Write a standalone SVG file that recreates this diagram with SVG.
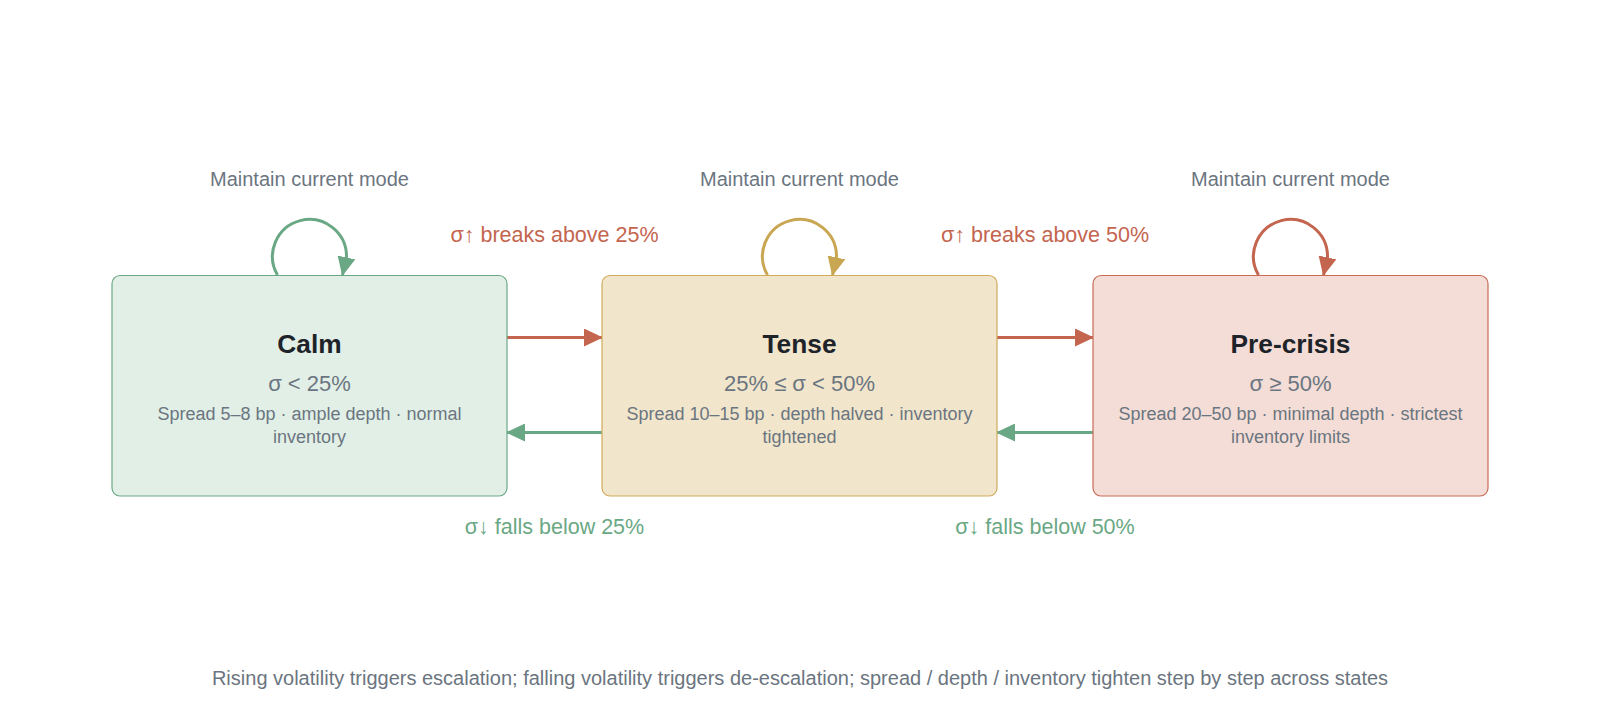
<svg xmlns="http://www.w3.org/2000/svg" width="1600" height="720" viewBox="0 0 1600 720">
<style>
text{font-family:"Liberation Sans",Arial,sans-serif;text-anchor:middle}
.t{font-size:26.3px;font-weight:bold;fill:#1d2329}
.s{font-size:22px;fill:#6b7580}
.d{font-size:18px;fill:#6b7580}
.m{font-size:20px;fill:#6b7580}
.up{font-size:21.5px;fill:#c4654f}
.dn{font-size:21.5px;fill:#6aa885}
.f{font-size:20px;fill:#6b7580}
.lr{fill:none;stroke:#c4654f;stroke-width:3}
.lg{fill:none;stroke:#6aa885;stroke-width:3}
.ly{fill:none;stroke:#c9a652;stroke-width:3}
</style>
<defs>
<marker id="ar" viewBox="0 0 19 18" refX="18" refY="9" markerWidth="19" markerHeight="18" markerUnits="userSpaceOnUse" orient="auto"><path d="M0,0 L19,9 L0,18 z" fill="#c4654f"/></marker>
<marker id="ag" viewBox="0 0 19 18" refX="18" refY="9" markerWidth="19" markerHeight="18" markerUnits="userSpaceOnUse" orient="auto"><path d="M0,0 L19,9 L0,18 z" fill="#6aa885"/></marker>
<marker id="ay" viewBox="0 0 19 18" refX="18" refY="9" markerWidth="19" markerHeight="18" markerUnits="userSpaceOnUse" orient="auto"><path d="M0,0 L19,9 L0,18 z" fill="#c9a652"/></marker>
</defs>
<rect width="1600" height="720" fill="#ffffff"/>
<g id="connectors">
<path class="lg" d="M277.5,275 A37,37 0 1 1 346.5,257 L342.5,275" marker-end="url(#ag)"/>
<path class="ly" d="M767.5,275 A37,37 0 1 1 836.5,257 L832.5,275" marker-end="url(#ay)"/>
<path class="lr" d="M1258.5,275 A37,37 0 1 1 1327.5,257 L1323.5,275" marker-end="url(#ar)"/>
<line class="lr" x1="507" y1="337.5" x2="602" y2="337.5" marker-end="url(#ar)"/>
<line class="lr" x1="997" y1="337.5" x2="1093" y2="337.5" marker-end="url(#ar)"/>
<line class="lg" x1="602" y1="432.5" x2="507" y2="432.5" marker-end="url(#ag)"/>
<line class="lg" x1="1093" y1="432.5" x2="997" y2="432.5" marker-end="url(#ag)"/>
<text class="m" x="309.5" y="186">Maintain current mode</text>
<text class="m" x="799.5" y="186">Maintain current mode</text>
<text class="m" x="1290.5" y="186">Maintain current mode</text>
<text class="up" x="554.5" y="242">σ↑ breaks above 25%</text>
<text class="up" x="1045" y="242">σ↑ breaks above 50%</text>
<text class="dn" x="554.5" y="534">σ↓ falls below 25%</text>
<text class="dn" x="1045" y="534">σ↓ falls below 50%</text>
</g>
<g id="calm">
<rect x="112" y="275.5" width="395" height="220.5" rx="8" fill="#e2efe7" stroke="#6aa885" stroke-width="1.2"/>
<text class="t" x="309.5" y="353">Calm</text>
<text class="s" x="309.5" y="391">σ &lt; 25%</text>
<text class="d" x="309.5" y="419.5">Spread 5–8 bp · ample depth · normal</text>
<text class="d" x="309.5" y="443">inventory</text>
</g>
<g id="tense">
<rect x="602" y="275.5" width="395" height="220.5" rx="8" fill="#f1e5cc" stroke="#d0ab5a" stroke-width="1.2"/>
<text class="t" x="799.5" y="353">Tense</text>
<text class="s" x="799.5" y="391">25% ≤ σ &lt; 50%</text>
<text class="d" x="799.5" y="419.5">Spread 10–15 bp · depth halved · inventory</text>
<text class="d" x="799.5" y="443">tightened</text>
</g>
<g id="precrisis">
<rect x="1093" y="275.5" width="395" height="220.5" rx="8" fill="#f3ddd6" stroke="#c96a55" stroke-width="1.2"/>
<text class="t" x="1290.5" y="353">Pre-crisis</text>
<text class="s" x="1290.5" y="391">σ ≥ 50%</text>
<text class="d" x="1290.5" y="419.5">Spread 20–50 bp · minimal depth · strictest</text>
<text class="d" x="1290.5" y="443">inventory limits</text>
</g>
<text class="f" x="800" y="685">Rising volatility triggers escalation; falling volatility triggers de-escalation; spread / depth / inventory tighten step by step across states</text>
</svg>
